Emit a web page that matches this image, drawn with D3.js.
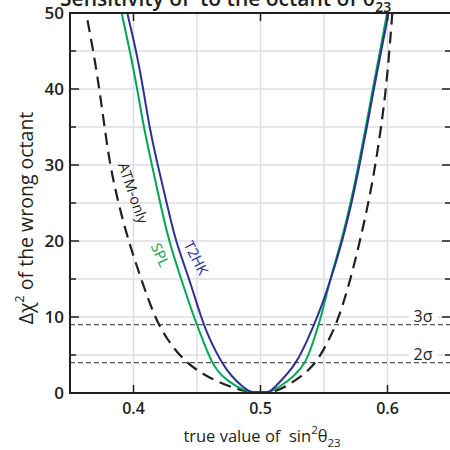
<!DOCTYPE html>
<html>
<head>
<meta charset="utf-8">
<script src="https://cdn.jsdelivr.net/npm/d3@7"></script>
<style>
  body { margin: 0; background: #fff; }
  svg { display: block; font-family: 'Open Sans', sans-serif; }
</style>
</head>
<body>
<svg id="chart" width="450" height="450"></svg>
<script>
// values: sin^2(theta23) vs delta chi^2
const t2hkX = [0.3935, 0.3950, 0.4022, 0.4077, 0.4125, 0.4190, 0.4262, 0.4330, 0.4440, 0.4530, 0.4600, 0.4694, 0.4773, 0.4860, 0.4915, 0.4960, 0.5040, 0.5075, 0.5114, 0.5193, 0.5285, 0.5370, 0.5450, 0.5555, 0.5645, 0.5718, 0.5780, 0.5838, 0.5892, 0.5950, 0.6010, 0.6022]
const t2hkY = [51.5, 50, 45, 40, 35, 30, 25, 20, 15, 10, 7, 4, 2.15, 0.8, 0.15, 0.08, 0.08, 0.15, 0.8, 2.15, 4, 7, 10, 15, 20, 25, 30, 35, 40, 45, 50, 51.5]

const splX = [0.3895, 0.3905, 0.3972, 0.4030, 0.4080, 0.4145, 0.4210, 0.4278, 0.4375, 0.4475, 0.4545, 0.4615, 0.4694, 0.4815, 0.4905, 0.4960, 0.5030, 0.5080, 0.5150, 0.5262, 0.5360, 0.5420, 0.5478, 0.5548, 0.5638, 0.5710, 0.5772, 0.5830, 0.5884, 0.5941, 0.5998, 0.6010]
const splY = [51.5, 50, 45, 40, 35, 30, 25, 20, 15, 10, 7, 4, 2.15, 0.8, 0.15, 0.06, 0.06, 0.15, 0.8, 2.15, 4, 7, 10, 15, 20, 25, 30, 35, 40, 45, 50, 51.5]

const atmX = [0.3616, 0.3626, 0.3684, 0.3731, 0.3772, 0.3815, 0.3880, 0.3960, 0.4060, 0.4165, 0.4265, 0.4406, 0.4576, 0.4760, 0.4891, 0.4960, 0.5040, 0.5115, 0.5193, 0.5324, 0.5443, 0.5540, 0.5620, 0.5710, 0.5783, 0.5850, 0.5905, 0.5950, 0.5988, 0.6015, 0.6038, 0.6045]
const atmY = [51.5, 50, 45, 40, 35, 30, 25, 20, 15, 10, 7, 4.04, 2.15, 0.8, 0.2, 0.05, 0.05, 0.2, 0.8, 2.15, 4.04, 7, 10, 15, 20, 25, 30, 35, 40, 45, 50, 51.5]

const xTicks = [0.4, 0.5, 0.6]
const yTicks = [0, 10, 20, 30, 40, 50]
const sigmaLevels = [9, 4]
const sigmaLabels = ['3σ', '2σ']

const curves = [
  { name: 'ATM-only', xs: atmX, ys: atmY, color: '#231f20', dash: '12,7', width: 2.2 },
  { name: 'SPL', xs: splX, ys: splY, color: '#00a651', dash: null, width: 2 },
  { name: 'T2HK', xs: t2hkX, ys: t2hkY, color: '#2e3192', dash: null, width: 2 },
]

const margin = { left: 70, top: 13, right: 451, bottom: 393 }

const svg = d3.select('#chart')
const x = d3.scaleLinear().domain([0.35, 0.65]).range([margin.left, margin.right])
const y = d3.scaleLinear().domain([0, 50]).range([margin.bottom, margin.top])

svg.append('defs').append('clipPath').attr('id', 'plot-clip')
  .append('rect')
  .attr('x', margin.left).attr('y', margin.top)
  .attr('width', margin.right - margin.left).attr('height', margin.bottom - margin.top)

// light grid every 0.05 / every 5
const grid = svg.append('g').attr('class', 'grid')
grid.selectAll('.vgrid')
  .data(d3.range(0.4, 0.65, 0.05))
  .enter()
  .append('line')
  .attr('x1', (d) => x(d)).attr('x2', (d) => x(d))
  .attr('y1', margin.top).attr('y2', margin.bottom)
  .attr('stroke', '#dddce6').attr('stroke-width', 1.4)
grid.selectAll('.hgrid')
  .data(d3.range(5, 50, 5))
  .enter()
  .append('line')
  .attr('x1', margin.left).attr('x2', margin.right)
  .attr('y1', (d) => y(d)).attr('y2', (d) => y(d))
  .attr('stroke', '#dddce6').attr('stroke-width', 1.4)

// sigma levels
const sig = svg.append('g').attr('class', 'sigma')
sig.selectAll('line')
  .data(sigmaLevels)
  .enter()
  .append('line')
  .attr('x1', margin.left).attr('x2', margin.right)
  .attr('y1', (d) => y(d)).attr('y2', (d) => y(d))
  .attr('stroke', '#555').attr('stroke-width', 1.2)
  .attr('stroke-dasharray', '5,3')

const plot = svg.append('g').attr('clip-path', 'url(#plot-clip)')
const line = d3.line()
  .x((d) => x(d[0]))
  .y((d) => y(d[1]))
  .curve(d3.curveBasis)

plot.selectAll('.curve')
  .data(curves)
  .enter()
  .append('path')
  .attr('class', 'curve')
  .attr('fill', 'none')
  .attr('stroke', (d) => d.color)
  .attr('stroke-width', (d) => d.width)
  .attr('stroke-dasharray', (d) => d.dash)
  .attr('d', (d) => line(d.xs.map((v, i) => [v, d.ys[i]])))

// sigma labels with white boxes over the grid
const sigLab = svg.append('g')
sigmaLevels.forEach((lvl, i) => {
  sigLab.append('rect')
    .attr('x', 409).attr('y', y(lvl) - 19)
    .attr('width', 29).attr('height', 16)
    .attr('fill', '#fff')
  sigLab.append('text')
    .attr('x', 423).attr('y', y(lvl) - 3)
    .attr('text-anchor', 'middle')
    .attr('font-size', 16)
    .attr('fill', '#231f20')
    .text(sigmaLabels[i])
})

// frame + ticks
svg.append('rect')
  .attr('x', margin.left).attr('y', margin.top)
  .attr('width', margin.right - margin.left).attr('height', margin.bottom - margin.top)
  .attr('fill', 'none').attr('stroke', '#231f20').attr('stroke-width', 2)

const yMinor = d3.range(5, 50, 10)
const ticks = svg.append('g').attr('stroke', '#231f20').attr('stroke-width', 1.5)
yTicks.concat(yMinor).forEach((v) => {
  const len = yTicks.includes(v) ? 9 : 6
  ticks.append('line').attr('x1', margin.left).attr('x2', margin.left + len).attr('y1', y(v)).attr('y2', y(v))
  ticks.append('line').attr('x1', margin.right).attr('x2', margin.right - len).attr('y1', y(v)).attr('y2', y(v))
})
xTicks.forEach((v) => {
  ticks.append('line').attr('x1', x(v)).attr('x2', x(v)).attr('y1', margin.bottom).attr('y2', margin.bottom - 8)
  ticks.append('line').attr('x1', x(v)).attr('x2', x(v)).attr('y1', margin.top).attr('y2', margin.top + 8)
})

svg.append('g').selectAll('text')
  .data(yTicks)
  .enter()
  .append('text')
  .attr('x', 64).attr('y', (d) => y(d))
  .attr('dy', '0.36em')
  .attr('text-anchor', 'end')
  .attr('font-size', 17).attr('font-weight', 600)
  .attr('fill', '#231f20')
  .text((d) => d)

svg.append('g').selectAll('text')
  .data(xTicks)
  .enter()
  .append('text')
  .attr('x', (d) => x(d)).attr('y', 414)
  .attr('text-anchor', 'middle')
  .attr('font-size', 16).attr('font-weight', 600)
  .attr('fill', '#231f20')
  .text((d) => d.toFixed(1))

// axis titles
const xt = svg.append('text')
  .attr('x', 262).attr('y', 442)
  .attr('text-anchor', 'middle')
  .attr('font-size', 16.5).attr('fill', '#231f20')
xt.append('tspan').text('true value of\u00a0\u00a0sin')
xt.append('tspan').attr('dy', -8).attr('font-size', 11.5).text('2')
xt.append('tspan').attr('dy', 8).text('θ')
xt.append('tspan').attr('dy', 5).attr('font-size', 11.5).text('23')

const yt = svg.append('text')
  .attr('transform', 'translate(33,218) rotate(-90)')
  .attr('text-anchor', 'middle')
  .attr('font-size', 19.5).attr('fill', '#231f20')
yt.append('tspan').text('Δχ')
yt.append('tspan').attr('dy', -9).attr('font-size', 12.5).text('2')
yt.append('tspan').attr('dy', 9).text(' of the wrong octant')

// title, mostly cut off at the top as in the original
const tt = svg.append('text')
  .attr('x', 60).attr('y', 6)
  .attr('font-size', 21).attr('font-weight', 600).attr('fill', '#231f20')
tt.append('tspan').text('Sensitivity of')
tt.append('tspan').attr('x', 200).text('to the octant of θ')
tt.append('tspan').attr('dy', 6).attr('font-size', 14).text('23')

// curve labels
const labels = [
  { text: 'ATM-only', cx: 133, cy: 193, angle: 71, color: '#231f20' },
  { text: 'SPL', cx: 160, cy: 255, angle: 66, color: '#00a651' },
  { text: 'T2HK', cx: 196, cy: 258, angle: 63, color: '#2e3192' },
]
svg.append('g').selectAll('text')
  .data(labels)
  .enter()
  .append('text')
  .attr('transform', (d) => `translate(${d.cx},${d.cy}) rotate(${d.angle})`)
  .attr('text-anchor', 'middle')
  .attr('dy', '0.35em')
  .attr('font-size', 14.5)
  .attr('fill', (d) => d.color)
  .text((d) => d.text)
</script>
</body>
</html>
